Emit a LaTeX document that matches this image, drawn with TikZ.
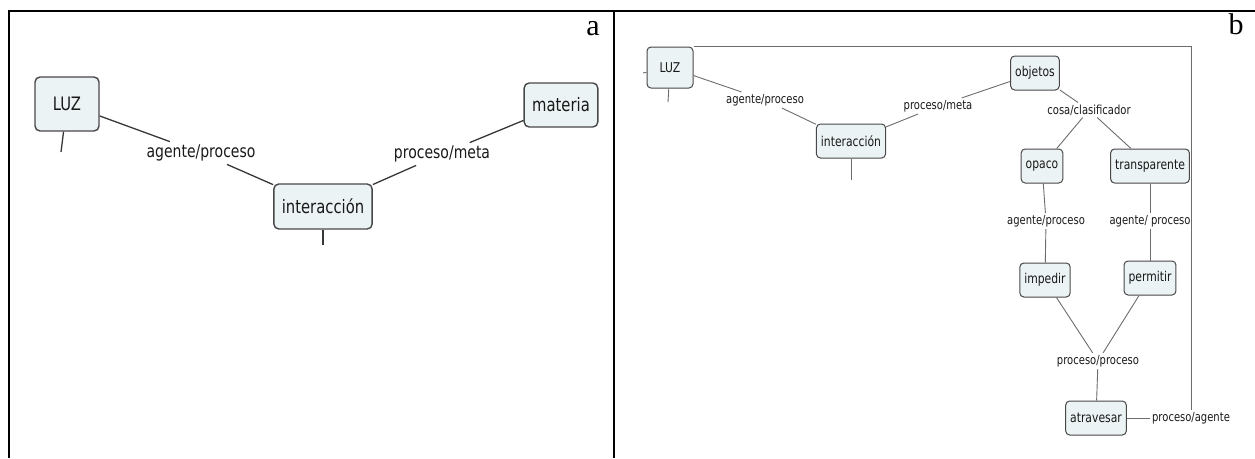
\documentclass[tikz,border=0pt]{standalone}
\usepackage{fontspec}
\setmainfont{Liberation Serif}
\newfontfamily\cmapfont[FakeStretch=0.8]{DejaVu Sans}

\definecolor{boxfill}{RGB}{236,243,245}
\definecolor{boxline}{RGB}{72,72,72}
\definecolor{wiregray}{RGB}{55,55,55}

\tikzset{
  conceptA/.style={draw=boxline, fill=boxfill, rounded corners=5pt, line width=1.4pt,
    font=\cmapfont\fontsize{18.5}{18.5}\selectfont, text=black!90, inner xsep=8pt, minimum height=45pt},
  linkA/.style={font=\cmapfont\fontsize{17.5}{17.5}\selectfont, text=black!90, inner sep=3pt},
  conceptB/.style={draw=boxline, fill=boxfill, rounded corners=4pt, line width=1pt,
    font=\cmapfont\fontsize{13.5}{13.5}\selectfont, text=black!90, inner xsep=4.5pt, minimum height=34pt},
  linkB/.style={font=\cmapfont\fontsize{12.5}{12.5}\selectfont, text=black!90, inner sep=2pt},
  wireA/.style={draw=wiregray, line width=1.3pt},
  wireB/.style={draw=gray!85!black, line width=0.9pt},
  frame/.style={draw=black, line width=2pt}
}

\begin{document}
\begin{tikzpicture}[x=1pt, y=-1pt]
\useasboundingbox (0,0) rectangle (1255,458);

\draw[frame] (8.5,458) -- (8.5,11) -- (1255,11);
\draw[frame] (614,11) -- (614,458);

% a
\node[conceptA, minimum width=64pt, minimum height=54pt] (luzA) at (67,104) {LUZ};
\node[linkA] (apA) at (201,153) {agente/proceso};
\node[conceptA, minimum width=97pt] (interA) at (323,206.5) {interacción};
\node[linkA] (pmA) at (442,154) {proceso/meta};
\node[conceptA, minimum width=72pt, minimum height=44pt] (matA) at (561,105) {materia};
\coordinate (stubA1) at (61,152);
\coordinate (stubA2) at (323,245);
\node[font=\fontsize{30}{30}\selectfont] (tagA) at (593,29) {a};

\draw[wireA] (luzA) -- (apA);
\draw[wireA] (apA) -- (interA);
\draw[wireA] (interA) -- (pmA);
\draw[wireA] (pmA) -- (matA);
\draw[wireA] (luzA) -- (stubA1);
\draw[wireA] (interA) -- (stubA2);

% b
\node[conceptB, minimum width=46pt, minimum height=41pt] (luzB) at (670,67.5) {LUZ};
\node[linkB] (apB) at (765,100) {agente/proceso};
\node[conceptB] (interB) at (851,141) {interacción};
\node[linkB] (pmB) at (938,106) {proceso/meta};
\node[conceptB] (objB) at (1035,73) {objetos};
\node[linkB] (ccB) at (1089,110) {cosa/clasificador};
\node[conceptB] (opacoB) at (1042,166) {opaco};
\node[conceptB] (transB) at (1150,166) {transparente};
\node[linkB] (ap1B) at (1046,221) {agente/proceso};
\node[linkB] (ap2B) at (1150,221) {agente/ proceso};
\node[conceptB] (impB) at (1045,280) {impedir};
\node[conceptB] (permB) at (1150,278) {permitir};
\node[linkB] (ppB) at (1098,361) {proceso/proceso};
\node[conceptB] (atrB) at (1096,418) {atravesar};
\node[linkB] (paB) at (1191,418) {proceso/agente};
\coordinate (stubB0) at (643,73);
\coordinate (stubB1) at (668,102);
\coordinate (stubB2) at (851,180);
\node[font=\fontsize{30}{30}\selectfont] (tagB) at (1236,24) {b};

\draw[wireB] (luzB) -- (apB);
\draw[wireB] (apB) -- (interB);
\draw[wireB] (interB) -- (pmB);
\draw[wireB] (pmB) -- (objB);
\draw[wireB] (objB) -- (ccB);
\draw[wireB] (ccB) -- (opacoB);
\draw[wireB] (ccB) -- (transB);
\draw[wireB] (opacoB) -- (ap1B);
\draw[wireB] (ap1B) -- (impB);
\draw[wireB] (transB) -- (ap2B);
\draw[wireB] (ap2B) -- (permB);
\draw[wireB] (impB) -- (ppB);
\draw[wireB] (permB) -- (ppB);
\draw[wireB] (ppB) -- (atrB);
\draw[wireB] (atrB) -- (paB);
\draw[wireB] (luzB.north east) -| (paB.north);
\draw[wireB] (luzB) -- (stubB0);
\draw[wireB] (luzB) -- (stubB1);
\draw[wireB] (interB) -- (stubB2);
\end{tikzpicture}
\end{document}
